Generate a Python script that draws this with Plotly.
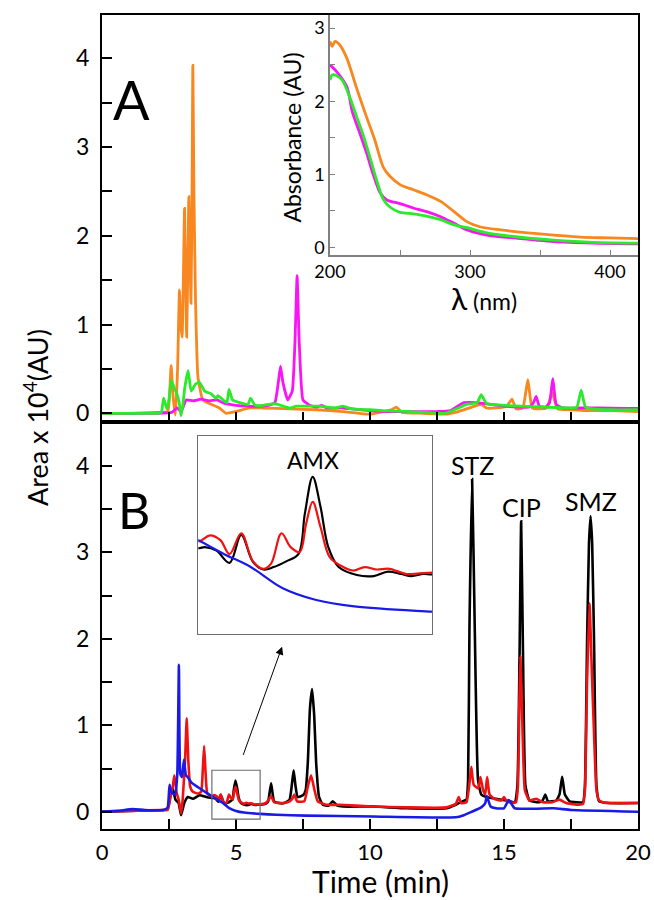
import plotly.graph_objects as go

# ---------------- Panel A chromatograms (time min, area x1e4) ----------------
A_ORANGE = [(0,0),(1,0),(2,0.01),(2.45,0.02),(2.52,0.2),(2.58,0.54),(2.65,0.2),(2.74,-0.02),
            (2.82,0.5),(2.89,1.39),(2.94,1.0),(2.99,0.86),(3.04,1.6),(3.08,2.31),(3.12,1.5),
            (3.16,0.86),(3.2,1.6),(3.24,2.44),(3.28,1.8),(3.32,1.24),(3.36,2.5),(3.39,3.92),
            (3.43,2.5),(3.49,1.27),(3.58,0.41),(3.76,0.15),(4.01,0.11),(4.38,0.06),(4.63,0.0),
            (5.0,0.02),(5.5,0.06),(6.0,0.06),(7.0,0.05),(8.0,0.04),(9.0,0.02),(10.0,-0.01),
            (10.8,0.04),(10.98,0.07),(11.2,0.01),(12.0,0.0),(12.8,-0.01),(13.3,0.02),(13.8,0.07),
            (14.15,0.1),(14.35,0.06),(14.7,0.06),(15.1,0.08),(15.3,0.16),(15.45,0.05),(15.7,0.06),
            (15.89,0.38),(16.05,0.06),(16.3,0.05),(16.6,0.06),(16.8,0.23),(17.0,0.05),(17.5,0.04),
            (18.0,0.03),(19.0,0.03),(20.0,0.02)]
A_MAGENTA = [(0,0),(2.0,0),(2.6,0.01),(2.8,0.06),(2.95,0.02),(3.14,0.15),(3.4,0.14),(3.7,0.16),
             (4.0,0.14),(4.3,0.15),(4.5,0.12),(4.77,0.1),(5.0,0.09),(5.4,0.08),(5.8,0.08),
             (6.2,0.09),(6.45,0.12),(6.58,0.35),(6.66,0.53),(6.75,0.35),(6.93,0.15),(7.1,0.25),
             (7.2,0.8),(7.28,1.55),(7.36,0.8),(7.5,0.15),(7.75,0.09),(8.0,0.07),(8.2,0.09),
             (8.4,0.06),(9.0,0.06),(9.35,0.05),(10.0,0.03),(10.6,0.02),(11.5,0.02),(12.5,0.02),
             (13.0,0.03),(13.5,0.12),(14.0,0.12),(14.5,0.1),(15.0,0.08),(15.6,0.07),(15.95,0.07),
             (16.1,0.12),(16.2,0.19),(16.32,0.08),(16.55,0.07),(16.7,0.12),(16.82,0.39),(16.95,0.1),
             (17.2,0.06),(17.8,0.06),(18.5,0.06),(19.5,0.055),(20,0.055)]
A_GREEN = [(0,0),(2.0,0),(2.21,0.01),(2.3,0.17),(2.42,0.05),(2.5,0.15),(2.58,0.37),(2.68,0.3),
           (2.79,0.22),(2.88,0.12),(2.95,-0.03),(3.02,0.1),(3.08,0.27),(3.21,0.48),(3.33,0.25),
           (3.49,0.33),(3.64,0.35),(3.83,0.25),(4.07,0.22),(4.25,0.17),(4.33,0.2),(4.52,0.15),
           (4.66,0.12),(4.74,0.27),(4.87,0.15),(5.14,0.12),(5.45,0.1),(5.54,0.17),(5.71,0.09),
           (6.0,0.09),(6.44,0.11),(7.0,0.06),(7.25,0.08),(8.1,0.08),(8.7,0.06),(8.99,0.08),
           (9.3,0.05),(10.0,0.04),(10.5,0.03),(11.5,0.02),(12.8,0.0),(13.0,0.02),(13.3,0.06),
           (13.6,0.1),(14.0,0.12),(14.15,0.21),(14.35,0.11),(15.0,0.09),(15.6,0.08),(16.5,0.07),
           (17.5,0.06),(17.72,0.07),(17.88,0.26),(18.04,0.07),(18.3,0.05),(19,0.04),(20,0.04)]

# ---------------- Inset A: UV spectra (nm, AU) ----------------
S_ORANGE = [(200,2.82),(201.5,2.75),(203.6,2.82),(207,2.77),(212,2.59),(219,2.18),(226,1.79),
            (232,1.47),(238,1.1),(243,0.97),(250,0.86),(259.5,0.79),(269,0.72),(279,0.63),
            (288.6,0.49),(298,0.35),(307.6,0.28),(322,0.24),(341,0.2),(360,0.17),(379,0.14),
            (400,0.13),(420,0.12)]
S_MAGENTA = [(200,2.5),(205,2.4),(212,2.2),(216,1.85),(221,1.58),(226,1.3),(231,0.99),(236,0.74),
             (240.5,0.65),(250,0.6),(259.5,0.54),(269,0.49),(279,0.42),(288.6,0.33),(298,0.24),
             (312,0.17),(331,0.13),(360,0.08),(388,0.06),(420,0.05)]
S_GREEN = [(200,2.29),(201.5,2.36),(204.8,2.35),(209,2.28),(214,2.06),(219,1.79),(224,1.52),
           (229,1.2),(233.6,0.9),(238,0.66),(243,0.55),(250,0.48),(259.5,0.46),(269,0.43),
           (279,0.38),(288.6,0.31),(298,0.27),(312,0.2),(331,0.15),(360,0.1),(388,0.07),(420,0.06)]

# ---------------- Panel B chromatograms ----------------
B_BLACK = [(0,0),(1.0,0.01),(2.3,0.02),(2.45,0.03),(2.58,0.23),(2.64,0.27),(2.74,0.14),(2.86,0.1),
           (2.95,-0.04),(3.07,0.1),(3.2,0.17),(3.39,0.15),(3.64,0.19),(3.89,0.17),(4.1,0.157),
           (4.15,0.16),(4.24,0.15),(4.34,0.115),(4.43,0.195),(4.52,0.118),(4.6,0.096),(4.68,0.103),
           (4.78,0.12),(4.87,0.14),(4.92,0.257),(4.98,0.362),(5.04,0.276),(5.1,0.16),(5.18,0.103),
           (5.32,0.08),(5.45,0.077),(5.56,0.09),(5.66,0.083),(5.74,0.077),(5.83,0.083),(5.9,0.082),
           (6.1,0.09),(6.2,0.12),(6.31,0.33),(6.42,0.12),(6.6,0.1),(6.8,0.1),(7.0,0.14),(7.08,0.3),
           (7.15,0.48),(7.22,0.3),(7.3,0.17),(7.5,0.19),(7.6,0.25),(7.68,0.57),(7.76,1.2),
           (7.84,1.42),(7.92,1.1),(7.99,0.57),(8.1,0.17),(8.24,0.08),(8.45,0.07),(8.61,0.12),
           (8.78,0.07),(9.0,0.06),(10.1,0.06),(11.35,0.04),(12.85,0.04),(13.2,0.08),(13.45,0.12),
           (13.6,0.14),(13.66,0.37),(13.71,2.1),(13.81,3.85),(13.91,2.1),(14.03,0.37),(14.15,0.2),
           (14.34,0.17),(14.7,0.15),(15.1,0.13),(15.4,0.11),(15.5,0.3),(15.58,1.8),(15.64,3.36),
           (15.71,1.8),(15.8,0.3),(15.95,0.13),(16.3,0.11),(16.44,0.13),(16.54,0.2),(16.64,0.12),
           (16.95,0.13),(17.07,0.2),(17.17,0.405),(17.27,0.2),(17.45,0.12),(17.7,0.11),(17.95,0.11),
           (18.02,0.3),(18.1,1.97),(18.17,3.1),(18.23,3.42),(18.29,3.1),(18.36,1.97),(18.45,0.3),
           (18.55,0.12),(19.0,0.1),(20.0,0.1)]
B_RED = [(0,0),(1.0,0.01),(2.3,0.02),(2.45,0.02),(2.58,0.21),(2.64,0.29),(2.7,0.42),(2.79,0.21),
         (2.86,0.14),(2.95,-0.02),(3.01,0.14),(3.1,0.6),(3.16,1.08),(3.22,0.6),(3.29,0.29),
         (3.39,0.23),(3.58,0.21),(3.7,0.23),(3.76,0.48),(3.81,0.76),(3.86,0.48),(3.93,0.21),
         (4.1,0.177),(4.19,0.194),(4.27,0.18),(4.34,0.14),(4.43,0.2),(4.52,0.12),(4.6,0.098),
         (4.66,0.113),(4.74,0.2),(4.81,0.16),(4.88,0.146),(4.93,0.228),(4.98,0.29),(5.04,0.218),
         (5.11,0.132),(5.19,0.108),(5.29,0.093),(5.38,0.103),(5.47,0.096),(5.57,0.098),(5.7,0.083),
         (5.8,0.085),(5.9,0.087),(6.1,0.1),(6.2,0.13),(6.31,0.18),(6.42,0.11),(6.75,0.1),(7.0,0.12),
         (7.1,0.15),(7.18,0.2),(7.28,0.12),(7.55,0.12),(7.68,0.29),(7.8,0.42),(7.93,0.25),
         (8.05,0.12),(8.36,0.08),(8.86,0.08),(10.1,0.06),(11.35,0.05),(12.85,0.05),(13.2,0.09),
         (13.31,0.17),(13.4,0.1),(13.6,0.11),(13.7,0.3),(13.78,0.52),(13.87,0.31),(14.04,0.27),
         (14.12,0.4),(14.22,0.25),(14.3,0.2),(14.37,0.4),(14.46,0.2),(14.63,0.15),(14.9,0.13),
         (15.0,0.17),(15.1,0.12),(15.2,0.11),(15.45,0.11),(15.52,0.3),(15.57,1.2),(15.61,1.8),
         (15.67,1.2),(15.78,0.25),(15.95,0.13),(16.2,0.15),(16.45,0.11),(16.8,0.11),(17.07,0.14),
         (17.32,0.1),(17.8,0.08),(17.95,0.09),(18.02,0.25),(18.1,1.5),(18.19,2.41),(18.28,1.6),
         (18.36,0.9),(18.45,0.25),(18.55,0.13),(18.8,0.1),(20,0.1)]
B_BLUE = [(0,0),(0.6,0.01),(1.15,0.03),(1.6,0.02),(2.3,0.02),(2.45,0.05),(2.52,0.31),(2.58,0.23),
          (2.64,0.21),(2.73,0.2),(2.81,0.44),(2.87,1.70),(2.92,0.44),(2.98,0.4),(3.06,0.6),
          (3.13,0.42),(3.2,0.4),(3.33,0.34),(3.5,0.3),(3.7,0.26),(3.89,0.22),(4.1,0.18),(4.3,0.14),
          (4.5,0.104),(4.75,0.042),(5.0,0.009),(5.3,-0.01),(5.9,-0.025),(6.5,-0.035),(7.6,-0.045),
          (10.1,-0.055),(13.2,-0.065),(13.5,-0.04),(13.8,0.0),(14.15,0.05),(14.3,0.1),(14.36,0.18),
          (14.5,0.06),(14.7,0.04),(15.0,0.04),(15.18,0.135),(15.4,0.04),(16.85,0.04),(17.5,0.02),
          (20,0.0)]

PEAK_LABELS = [("STZ", 13.81, 4.01), ("CIP", 15.64, 3.53), ("SMZ", 18.23, 3.59)]
X_TICKS = [0, 2.5, 5, 7.5, 10, 12.5, 15, 17.5, 20]
Y_TICKS = [0, 0.5, 1, 1.5, 2, 2.5, 3, 3.5, 4]

ORANGE, MAGENTA, GREEN = "#F7871E", "#FA14F5", "#2AEA2A"
BLACK, RED, BLUE = "#000000", "#F01212", "#1A1AE8"
FONT = "Lato"


def xy(pairs):
    return [p[0] for p in pairs], [p[1] for p in pairs]


fig = go.Figure()


def add(pairs, color, xa, ya, w=2.6, sm=0.4):
    x, y = xy(pairs)
    fig.add_trace(go.Scatter(x=x, y=y, mode="lines", xaxis=xa, yaxis=ya,
                             line=dict(color=color, width=w, shape="spline", smoothing=sm),
                             hoverinfo="skip", showlegend=False))


for d, c in [(A_ORANGE, ORANGE), (A_MAGENTA, MAGENTA), (A_GREEN, GREEN)]:
    add(d, c, "x", "y", 2.8)
for d, c in [(S_ORANGE, ORANGE), (S_MAGENTA, MAGENTA), (S_GREEN, GREEN)]:
    add(d, c, "x3", "y3", 2.8, 0.8)
for d, c in [(B_BLACK, BLACK), (B_RED, RED), (B_BLUE, BLUE)]:
    add(d, c, "x2", "y2", 2.6)
for d, c in [(B_BLACK, BLACK), (B_RED, RED), (B_BLUE, BLUE)]:
    add(d, c, "x4", "y4", 2.2, 1.0)

ytext = [str(int(v)) if v == int(v) else "" for v in Y_TICKS]
xtext = [str(int(v)) if v == int(v) and int(v) % 5 == 0 else "" for v in X_TICKS]

frame = dict(showline=True, linecolor="black", linewidth=2, mirror=True, ticks="inside",
             ticklen=10, tickwidth=1.5, tickcolor="black", showgrid=False, zeroline=False,
             automargin=False, tickfont=dict(family=FONT, size=23, color="black"))
small = dict(showline=True, linecolor="#808080", linewidth=1.5, ticks="inside", ticklen=5,
             tickwidth=1, tickcolor="#808080", showgrid=False, zeroline=False, automargin=False,
             tickfont=dict(family=FONT, size=18, color="black"))
box = dict(showline=True, linecolor="#6e6e6e", linewidth=1.2, mirror=True, ticks="",
           showticklabels=False, showgrid=False, zeroline=False, automargin=False)

fig.update_layout(
    width=654, height=900, margin=dict(l=102, r=16, t=15, b=71, autoexpand=False),
    paper_bgcolor="white", plot_bgcolor="white",
    xaxis=dict(frame, domain=[0, 1], anchor="y", range=[0, 20], tickvals=X_TICKS,
               showticklabels=False),
    yaxis=dict(frame, domain=[0.5, 1], anchor="x", range=[-0.098, 4.488], tickvals=Y_TICKS,
               ticktext=ytext, ticklabelstandoff=6),
    xaxis2=dict(frame, domain=[0, 1], anchor="y2", range=[0, 20], tickvals=X_TICKS,
                ticktext=xtext, ticklabelstandoff=3, tickfont=dict(family=FONT, size=22, color="black")),
    yaxis2=dict(frame, domain=[0, 0.5], anchor="x2", range=[-0.2, 4.509], tickvals=Y_TICKS,
                ticktext=ytext, ticklabelstandoff=6),
    xaxis3=dict(small, domain=[0.4254, 1], anchor="y3", range=[200, 420],
                tickvals=[200, 250, 300, 350, 400], ticktext=["200", "", "300", "", "400"]),
    yaxis3=dict(small, domain=[0.705, 1], anchor="x3", range=[-0.105, 3.18],
                tickvals=[0, 0.5, 1, 1.5, 2, 2.5, 3], ticktext=["0", "", "1", "", "2", "", "3"]),
    xaxis4=dict(box, domain=[0.1797, 0.6162], anchor="y4", range=[4.1, 5.9]),
    yaxis4=dict(box, domain=[0.2392, 0.4832], anchor="x4", range=[-0.09, 0.48]),
)

# zoom box in panel B
fig.add_shape(type="rect", xref="x2", yref="y2", x0=4.1, x1=5.9, y0=-0.085, y1=0.48,
              line=dict(color="#6e6e6e", width=1.2))


def note(text, x, y, size, xref="paper", yref="paper", angle=0):
    return dict(text=text, xref=xref, yref=yref, x=x, y=y, showarrow=False, textangle=angle,
                xanchor="center", yanchor="middle", font=dict(family=FONT, size=size, color="black"))


ann = [
    note("A", 0.055, 0.8956, 54),
    note("B", 0.0588, 0.3925, 50),
    note("Area x 10<sup>4</sup>(AU)", -0.123, 0.505, 27, angle=-90),
    note("Time (min)", 0.5187, -0.0635, 30),
    note("Absorbance (AU)", 0.3554, 0.85, 23, angle=-90),
    note('<span style="font-size:30px">λ</span> (nm)', 0.7127, 0.652, 23),
    note("AMX", 4.98, 0.41, 23, "x4", "y4"),
]
for name, px, py in PEAK_LABELS:
    ann.append(note(name, px, py, 25, "x2", "y2"))
ann.append(dict(text="", xref="x2", yref="y2", x=6.72, y=1.91, axref="x2", ayref="y2",
                ax=5.25, ay=0.64, showarrow=True, arrowhead=2, arrowsize=1.6, arrowwidth=1,
                arrowcolor="black", standoff=0))
fig.update_layout(annotations=ann)

# remove the browser's default 8px page margin so the 654x900 figure fills the window exactly
fig.write_html("out.html", config={"displayModeBar": False},
               post_script="document.body.style.margin='0';document.body.style.overflow='hidden';")
